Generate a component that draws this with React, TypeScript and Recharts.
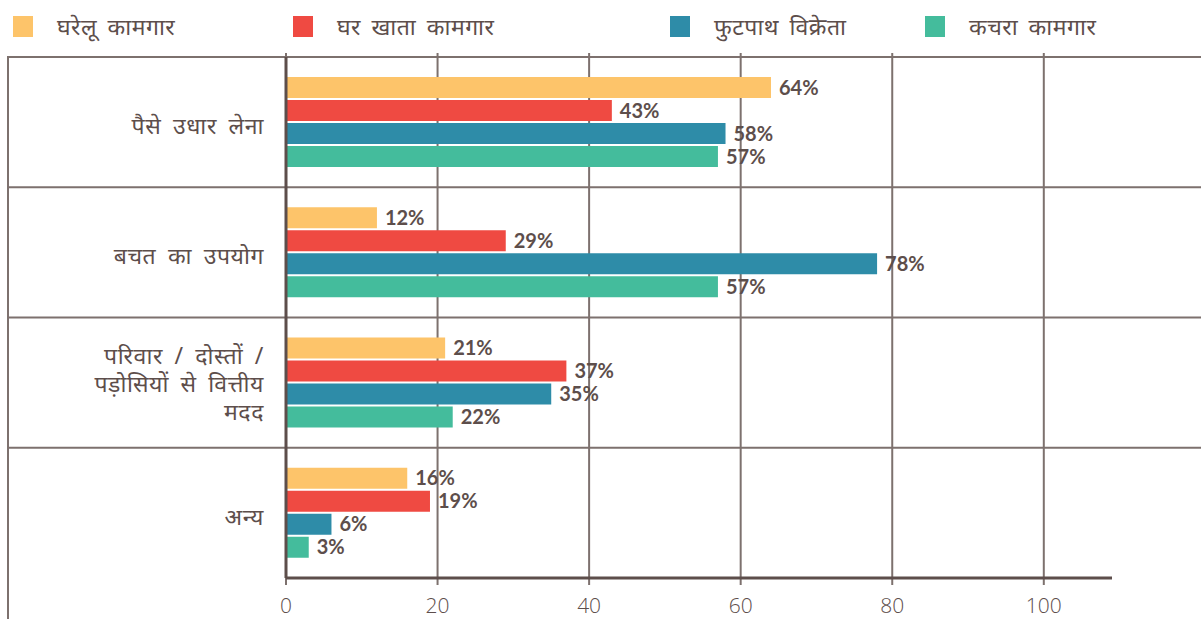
import React from 'react';
import {
  BarChart,
  Bar,
  XAxis,
  YAxis,
  CartesianGrid,
  LabelList,
} from 'recharts';

const categories = [
  'पैसे उधार लेना',
  'बचत का उपयोग',
  'परिवार / दोस्तों /\nपड़ोसियों से वित्तीय\nमदद',
  'अन्य',
];

const seriesNames = ['घरेलू कामगार', 'घर खाता कामगार', 'फुटपाथ विक्रेता', 'कचरा कामगार'];
const domesticWorkers = [64, 12, 21, 16];
const homeBasedWorkers = [43, 29, 37, 19];
const streetVendors = [58, 78, 35, 6];
const wastePickers = [57, 57, 22, 3];
const xTicks = [0, 20, 40, 60, 80, 100];
const X_MAX = 109;

const seriesKeys = ['domestic', 'homeBased', 'vendors', 'waste'];
const seriesColors = ['#fdc46a', '#ef4a42', '#2e8ca8', '#44bc9c'];

const data = categories.map((category, i) => ({
  category,
  domestic: domesticWorkers[i],
  homeBased: homeBasedWorkers[i],
  vendors: streetVendors[i],
  waste: wastePickers[i],
}));

const W = 1201;
const H = 619;
const FRAME_LEFT = 8;
const textColor = '#5d4e4b';
const gridColor = '#7d716e';
const devaFont = "'Noto Sans', 'Noto Sans Devanagari', 'Lohit Devanagari', sans-serif";

// legend item left edges
const legendLefts = [13, 293, 670, 925];

const CategoryTick = (props: any) => {
  const { x, y, payload } = props;
  const lines = String(payload.value).split('\n');
  const lh = 28;
  const first = -((lines.length - 1) * lh) / 2 + (lines.length > 1 ? 2 : 5);
  return (
    <text
      x={x - 14}
      y={y}
      textAnchor="end"
      fill={textColor}
      fontSize={23}
      fontFamily={devaFont}
      style={{ wordSpacing: 5, letterSpacing: 0.6 }}
    >
      {lines.map((line, i) => (
        <tspan key={i} x={x - 14} dy={i === 0 ? first + 7 : lh}>
          {line}
        </tspan>
      ))}
    </text>
  );
};

const HLine = (props: any) => (
  <line
    key={`h-${props.index}`}
    x1={FRAME_LEFT}
    x2={W}
    y1={props.y1}
    y2={props.y2}
    stroke={gridColor}
    strokeWidth={2}
  />
);

const VLine = (props: any) => (
  <line
    key={`v-${props.index}`}
    x1={props.x1}
    x2={props.x2}
    y1={props.y1 - 4}
    y2={props.y2 + 7}
    stroke={gridColor}
    strokeWidth={2}
  />
);

export default function App() {
  return (
    <div style={{ position: 'absolute', left: 0, top: 0, width: W, height: H, background: '#fff' }}>
      {/* left frame line */}
      <div
        style={{
          position: 'absolute',
          left: FRAME_LEFT - 1,
          top: 56,
          width: 2,
          height: H - 56,
          background: gridColor,
        }}
      />

      {/* legend */}
      {seriesNames.map((name, i) => (
        <div
          key={name}
          style={{
            position: 'absolute',
            left: legendLefts[i],
            top: 10,
            display: 'flex',
            alignItems: 'center',
            fontFamily: devaFont,
            fontSize: 23,
            color: textColor,
            whiteSpace: 'nowrap',
            wordSpacing: 4,
            letterSpacing: 0.5,
          }}
        >
          <span style={{ width: 20, height: 21, background: seriesColors[i], marginRight: 24 }} />
          <span>{name}</span>
        </div>
      ))}

      <BarChart
        width={W}
        height={H}
        data={data}
        layout="vertical"
        margin={{ top: 57, right: 89, left: FRAME_LEFT, bottom: 11 }}
        barCategoryGap={20}
        barGap={2}
      >
        <CartesianGrid
          stroke={gridColor}
          horizontal={HLine}
          vertical={VLine}
          horizontalCoordinatesGenerator={({ offset }: any) =>
            categories.map((_, i) => offset.top + (i * offset.height) / categories.length)
          }
          verticalCoordinatesGenerator={({ offset }: any) =>
            xTicks.map((t) => offset.left + (t / X_MAX) * offset.width)
          }
        />
        <XAxis
          type="number"
          domain={[0, X_MAX]}
          ticks={xTicks}
          height={30}
          allowDataOverflow
          stroke={textColor}
          axisLine={{ stroke: textColor, strokeWidth: 3 }}
          tickLine={false}
          tickMargin={14}
          tick={{ fill: textColor, fontSize: 21, fontFamily: "'Open Sans', sans-serif", fontWeight: 300 }}
        />
        <YAxis
          type="category"
          dataKey="category"
          width={278}
          axisLine={{ stroke: textColor, strokeWidth: 3 }}
          tickLine={false}
          tick={<CategoryTick />}
          interval={0}
        />
        {seriesKeys.map((key, i) => (
          <Bar key={key} dataKey={key} name={seriesNames[i]} fill={seriesColors[i]} isAnimationActive={false}>
            <LabelList
              dataKey={key}
              position="right"
              offset={8}
              formatter={(v: any) => `${v}%`}
              fill={textColor}
              fontSize={20}
              fontWeight={700}
              fontFamily="Lato, sans-serif"
            />
          </Bar>
        ))}
      </BarChart>
    </div>
  );
}
